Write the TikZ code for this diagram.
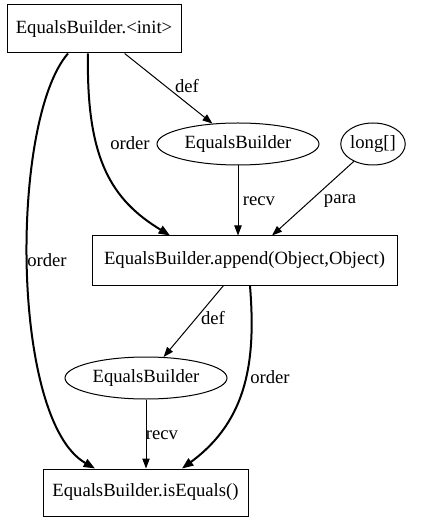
\documentclass[tikz,border=0pt]{standalone}
\usepackage{fontspec}
\setmainfont{Liberation Serif}
\usetikzlibrary{shapes.geometric,arrows.meta}
\begin{document}
\begin{tikzpicture}[x=0.75pt,y=-0.75pt,
  every node/.style={font=\rmfamily\fontsize{14}{16}\selectfont},
  box/.style={draw,line width=0.75pt,rectangle,inner sep=0pt},
  oval/.style={draw,line width=0.75pt,ellipse,inner sep=0pt,minimum height=31.5pt},
  edge/.style={line width=0.75pt,-{Triangle[length=7.5pt,width=5.5pt]}},
  bold/.style={line width=1.5pt,-{Triangle[length=8.5pt,width=6.5pt]}},
  lab/.style={inner sep=0pt}]
\useasboundingbox (0,0) rectangle (437,523);
\node[box,minimum width=130.5pt,minimum height=36pt] (init) at (94,29) {EqualsBuilder.<init>};
\node[oval,minimum width=121.5pt] (eb1) at (238,144) {EqualsBuilder};
\node[oval,minimum width=43.5pt] (lng) at (373,144) {long[]};
\node[box,minimum width=228.75pt,minimum height=36.75pt] (app) at (244.5,260.5) {EqualsBuilder.append(Object,Object)};
\node[oval,minimum width=121.5pt] (eb2) at (146,378) {EqualsBuilder};
\node[box,minimum width=153.75pt,minimum height=35.25pt] (ise) at (145.5,492.5) {EqualsBuilder.isEquals()};
% edges
\draw[edge] (init) -- (eb1);
\node[lab] (l1) at (187,86) {def};
\draw[bold] ([xshift=-4.5pt]init.south) .. controls (86,160) and (112,200) .. ([xshift=-55.9pt]app.north);
\node[lab] (l2) at (130,143) {order};
\draw[bold] ([xshift=-19.5pt]init.south) .. controls (10,120) and (10,420) .. ([xshift=-37.9pt]ise.north);
\node[lab] (l3) at (47,260) {order};
\draw[edge] (eb1) -- (app.north -| eb1);
\node[lab] (l4) at (259,201) {recv};
\draw[edge] (lng) -- (app);
\node[lab] (l5) at (340,201) {para};
\draw[edge] (app) -- (eb2);
\node[lab] (l6) at (213,318) {def};
\draw[bold] ([xshift=4.1pt]app.south) .. controls (256,360) and (248,420) .. ([xshift=27.4pt]ise.north);
\node[lab] (l7) at (270,377) {order};
\draw[edge] (eb2) -- (ise.north -| eb2);
\node[lab] (l8) at (162,435) {recv};
\end{tikzpicture}
\end{document}
